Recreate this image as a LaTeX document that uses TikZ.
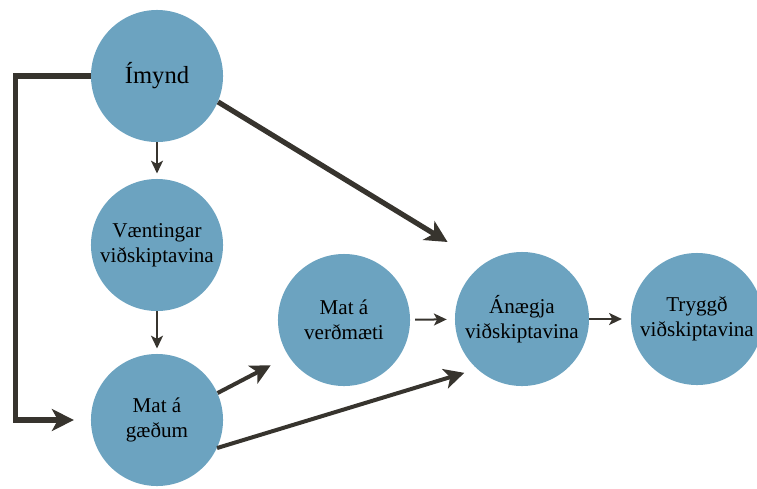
\documentclass[tikz,border=0pt]{standalone}
\usepackage{fontspec}
\setmainfont{Liberation Serif}
\usetikzlibrary{arrows.meta,positioning}
\definecolor{bwblue}{RGB}{108,163,192}
\definecolor{bwdark}{RGB}{55,52,46}

\begin{document}
\begin{tikzpicture}[
  x=0.025cm,y=-0.025cm,
  circ/.style={circle,fill=bwblue,minimum size=3.3cm,inner sep=0pt,align=center,font=\fontsize{15}{18}\selectfont},
  thinarr/.style={draw=bwdark,line width=0.05cm,-{Stealth[length=0.32cm,width=0.3cm,inset=0.08cm]}},
  medarr/.style={draw=bwdark,line width=0.1cm,-{Stealth[length=0.5cm,width=0.5cm,inset=0.13cm]}},
  thickarr/.style={draw=bwdark,line width=0.13cm,-{Stealth[length=0.55cm,width=0.55cm,inset=0.15cm]}},
]
  \useasboundingbox (0,0) rectangle (757,488);
  % circles
  \node[circ,font=\fontsize{17.5}{21}\selectfont] (imynd) at (157,76) {Ímynd};
  \node[circ] (vaent)   at (157,245) {Væntingar\\viðskiptavina};
  \node[circ] (gaedi)   at (157,420) {Mat á\\gæðum};
  \node[circ] (verdm)   at (344,320) {Mat á\\verðmæti};
  \node[circ,minimum size=3.35cm] (anaegja) at (522,319) {Ánægja\\viðskiptavina};
  \node[circ] (tryggd)  at (697,319) {Tryggð\\viðskiptavina};
  % connectors
  \draw[thinarr,shorten >=0.13cm] (imynd) -- (vaent);
  \draw[thinarr,shorten >=0.13cm] (vaent) -- (gaedi);
  \draw[thinarr,shorten <=0.12cm,shorten >=0.2cm] (verdm) -- (anaegja);
  \draw[thinarr,shorten >=0.22cm] (anaegja) -- (tryggd);
  \draw[thickarr,shorten >=1.05cm] (imynd.-23) -- (anaegja.125);
  \draw[medarr,shorten >=0.5cm] (gaedi.24) -- (verdm.213);
  \draw[medarr,shorten >=0.33cm] (gaedi.-25) -- (anaegja.228);
  \draw[thickarr,shorten >=0.42cm] (imynd.west) -- ([xshift=-1.875cm]imynd.west) |- (gaedi.west);
\end{tikzpicture}
\end{document}
